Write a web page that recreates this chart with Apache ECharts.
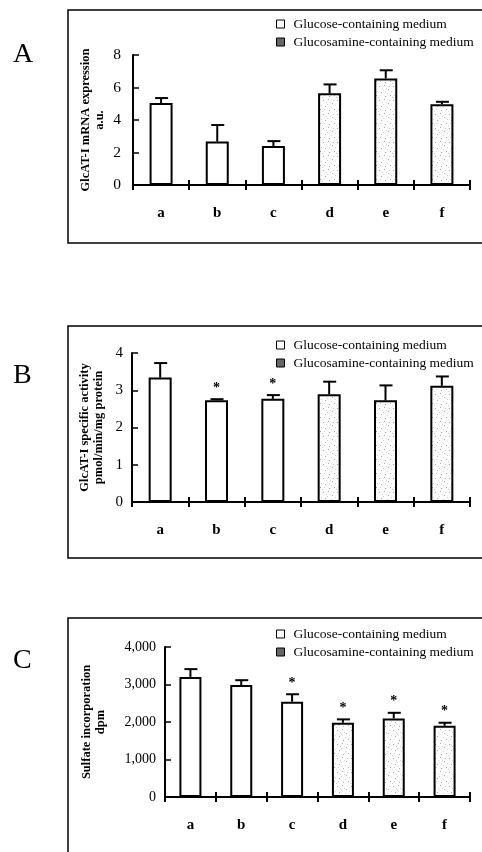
<!DOCTYPE html>
<html><head><meta charset="utf-8">
<script src="https://cdn.jsdelivr.net/npm/echarts@6/dist/echarts.min.js"></script>
<style>html,body{margin:0;padding:0;background:#fff}#c{width:482px;height:852px}</style>
</head><body><div id="c"></div>
<script>
const categories = ['a','b','c','d','e','f'];
const mediumGroup = ['glucose','glucose','glucose','glucosamine','glucosamine','glucosamine'];
const mrnaValues = [5.05, 2.67, 2.40, 5.64, 6.56, 4.97];
const mrnaErrors = [0.30, 1.02, 0.30, 0.55, 0.50, 0.15];
const mrnaStars = [false,false,false,false,false,false];
const activityValues = [3.34, 2.73, 2.77, 2.89, 2.73, 3.12];
const activityErrors = [0.39, 0.03, 0.10, 0.34, 0.40, 0.25];
const activityStars = [false,true,true,false,false,false];
const sulfateValues = [3200, 2985, 2540, 1980, 2095, 1900];
const sulfateErrors = [210, 130, 200, 90, 150, 80];
const sulfateStars = [false,false,true,true,true,true];
const legendNames = ['Glucose-containing medium','Glucosamine-containing medium'];
const yTitles = ['GlcAT-I mRNA expression\na.u.','GlcAT-I specific activity\npmol/min/mg protein','Sulfate incorporation\ndpm'];
const panelLetters = ['A','B','C'];

const SERIF = '"Liberation Serif","DejaVu Serif",serif';

function makeStipple(){
  const c=document.createElement('canvas'); c.width=14; c.height=14;
  const g=c.getContext('2d'); g.fillStyle='#fdfdfd'; g.fillRect(0,0,14,14);
  g.fillStyle='#a8a8a8';
  [[1,2],[6,1],[10,5],[3,8],[12,11],[7,12]].forEach(p=>g.fillRect(p[0],p[1],1,1));
  g.fillStyle='#d4d4d4';
  [[2,11],[11,2],[5,6],[13,7],[8,4],[0,13],[4,4],[9,9]].forEach(p=>g.fillRect(p[0],p[1],1,1));
  return c;
}
const stipple = makeStipple();

const panels = [
  {values:mrnaValues, errors:mrnaErrors, stars:mrnaStars, grid:{left:133,top:55,width:337,height:130}, min:0,max:8,interval:2, fmt:v=>String(v), nameGap:26, labelMargin:12, labelSize:15.5, barWidth:23, legendTop:12, frameTop:10, frameBottom:243, letterY:55},
  {values:activityValues, errors:activityErrors, stars:activityStars, grid:{left:132,top:353,width:338,height:149}, min:0,max:4,interval:1, fmt:v=>String(v), nameGap:26, labelMargin:9, labelSize:15, barWidth:23, legendTop:333, frameTop:326, frameBottom:558, letterY:376},
  {values:sulfateValues, errors:sulfateErrors, stars:sulfateStars, grid:{left:165,top:647,width:305,height:150}, min:0,max:4000,interval:1000, fmt:v=>v.toLocaleString('en-US'), nameGap:57, labelMargin:9, labelSize:14, barWidth:22, legendTop:622, frameTop:618, frameBottom:900, letterY:661}
];

const option = {animation:false, backgroundColor:'#fff', grid:[], xAxis:[], yAxis:[], series:[], legend:[], graphic:[]};

panels.forEach((p,k)=>{
  option.grid.push(p.grid);
  option.xAxis.push({type:'category', gridIndex:k, position:'bottom', data:categories, boundaryGap:true,
    axisLine:{lineStyle:{color:'#000',width:2}}, axisTick:{show:true,length:5,lineStyle:{color:'#000',width:2}},
    axisLabel:{color:'#000', fontFamily:SERIF, fontWeight:'bold', fontSize:15, margin:21}});
  option.xAxis.push({type:'category', gridIndex:k, position:'bottom', offset:0, data:categories, boundaryGap:true,
    axisLine:{show:false}, axisTick:{show:true,inside:true,length:5,lineStyle:{color:'#000',width:2}},
    axisLabel:{show:false}});
  option.yAxis.push({type:'value', gridIndex:k, min:p.min, max:p.max, interval:p.interval, splitLine:{show:false},
    axisLine:{show:true,lineStyle:{color:'#000',width:2}}, axisTick:{show:true,inside:true,length:6,lineStyle:{color:'#000',width:1.5}},
    axisLabel:{color:'#000', fontFamily:SERIF, fontSize:p.labelSize, margin:p.labelMargin, formatter:p.fmt},
    name:yTitles[k], nameLocation:'middle', nameGap:p.nameGap, nameMoveOverlap:false,
    nameTextStyle:{color:'#000', fontFamily:SERIF, fontWeight:'bold', fontSize:12.5, lineHeight:14}});
  const xi = k*2;
  option.series.push({name:legendNames[0], type:'bar', xAxisIndex:xi, yAxisIndex:k, barWidth:p.barWidth, barGap:'-100%',
    data:p.values.map((v,i)=>mediumGroup[i]==='glucose'?v:'-'),
    itemStyle:{color:'#fff', borderColor:'#000', borderWidth:2}});
  option.series.push({name:legendNames[1], type:'bar', xAxisIndex:xi, yAxisIndex:k, barWidth:p.barWidth, barGap:'-100%',
    data:p.values.map((v,i)=>mediumGroup[i]==='glucosamine'?v:'-'),
    itemStyle:{color:{image:stipple, repeat:'repeat'}, borderColor:'#000', borderWidth:2}});
  option.series.push({type:'custom', xAxisIndex:xi, yAxisIndex:k, z:5,
    data:p.values.map((v,i)=>[i, v, p.errors[i], p.stars[i]?1:0]),
    encode:{x:0,y:1},
    renderItem:function(params, api){
      const i=api.value(0), v=api.value(1), e=api.value(2), s=api.value(3);
      const b=api.coord([i,v]), t=api.coord([i,v+e]);
      const ch=[
        {type:'line', shape:{x1:b[0],y1:b[1],x2:t[0],y2:t[1]}, style:{stroke:'#000',lineWidth:2}},
        {type:'line', shape:{x1:t[0]-6,y1:t[1],x2:t[0]+7,y2:t[1]}, style:{stroke:'#000',lineWidth:2}}
      ];
      if(s){ ch.push({type:'text', style:{text:'*', x:t[0], y:t[1]-11, fill:'#000', font:'bold 14px '+SERIF, textAlign:'center', textVerticalAlign:'middle'}}); }
      return {type:'group', children:ch};
    }});
  option.legend.push({orient:'vertical', left:271, top:p.legendTop, itemWidth:8, itemHeight:8, itemGap:4, icon:'rect',
    selectedMode:false, textStyle:{color:'#000', fontFamily:SERIF, fontSize:13.5, lineHeight:14, padding:[0,0,0,4]},
    data:[{name:legendNames[0], itemStyle:{color:'#fff',borderColor:'#000',borderWidth:1}},
          {name:legendNames[1], itemStyle:{color:'#666',borderColor:'#000',borderWidth:1}}]});
  option.graphic.push({type:'rect', shape:{x:68,y:p.frameTop,width:430,height:p.frameBottom-p.frameTop}, style:{fill:'none',stroke:'#000',lineWidth:1.5}, z:-1, silent:true});
  option.graphic.push({type:'text', left:13, top:p.letterY-14, style:{text:panelLetters[k], font:'28px '+SERIF, fill:'#000'}});
});

const chart = echarts.init(document.getElementById('c'));
chart.setOption(option);
</script></body></html>
